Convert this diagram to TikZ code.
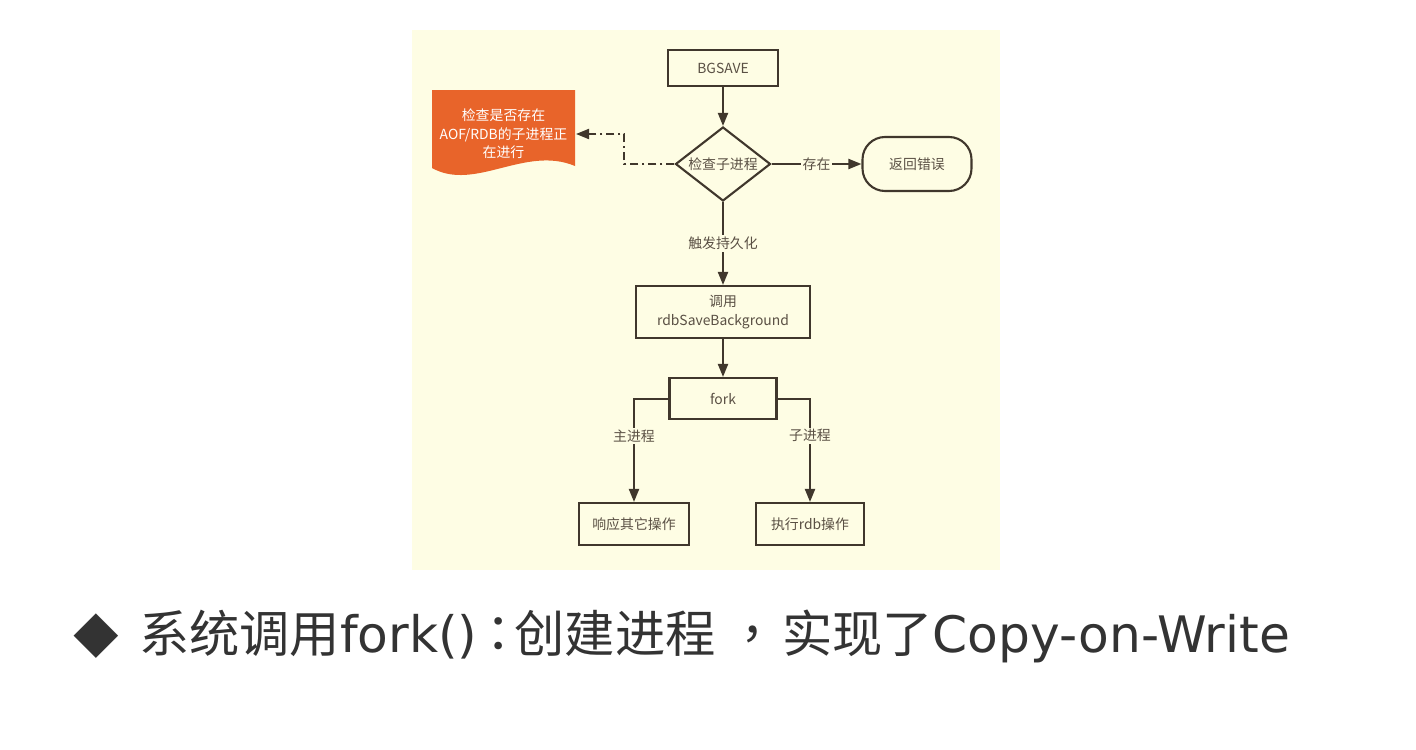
\documentclass[tikz,border=0pt]{standalone}
\usepackage{fontspec}
\newfontfamily\cjk{Noto Sans CJK SC}
\newfontfamily\punct{Noto Sans CJK TC}
\newfontfamily\latin{DejaVu Sans}
\usetikzlibrary{arrows.meta, shapes.geometric}
\definecolor{panel}{RGB}{254,253,228}
\definecolor{ink}{RGB}{64,55,44}
\definecolor{txt}{RGB}{90,80,68}
\definecolor{docfill}{RGB}{232,100,42}
\definecolor{slide}{RGB}{51,51,51}

\begin{document}
\begin{tikzpicture}[
    x=0.2mm, y=-0.2mm,
    line width=0.4mm, ink,
    box/.style={draw=ink, line width=0.42mm, rectangle, inner sep=0pt,
        font=\cjk\fontsize{7.9}{10.5}\selectfont, text=txt, align=center},
    arr/.style={ink, -{Triangle[length=2.6mm, width=2mm]}},
    lab/.style={fill=panel, font=\cjk\fontsize{7.9}{10.5}\selectfont, text=txt, inner sep=1pt},
  ]
  \useasboundingbox (0,0) rectangle (1416,750);
  \fill[white] (0,0) rectangle (1416,750);
  \fill[panel] (412,30) rectangle (1000,570);

  \node[box, minimum width=22mm, minimum height=7.2mm] (bg) at (723,68) {BGSAVE};
  \node[box, diamond, shape aspect=1.3, minimum width=19mm, minimum height=14.8mm] (chk) at (723,164) {检查子进程};
  \node[box, rounded corners=4.5mm, minimum width=21.8mm, minimum height=10.8mm] (err) at (917,164) {返回错误};
  \node[box, minimum width=34.8mm, minimum height=10.4mm] (rdb) at (723,312) {调用\\rdbSaveBackground};
  \node[box, minimum width=21.4mm, minimum height=8.2mm] (fork) at (723,398.5) {fork};
  \node[box, minimum width=22mm, minimum height=8.4mm] (resp) at (634,524) {响应其它操作};
  \node[box, minimum width=21.6mm, minimum height=8.4mm] (exec) at (810,524) {执行rdb操作};

  \fill[docfill] (432,90) -- (575,90) -- (575,166)
    .. controls (525,145) and (475,192) .. (432,168) -- cycle;
  \node[font=\cjk\fontsize{7.9}{10.5}\selectfont, text=white, align=center,
    inner sep=0pt, minimum width=28.6mm] (doc) at (503.5,134) {检查是否存在\\AOF/RDB的子进程正\\在进行};

  \draw[arr] (bg) -- (chk);
  \draw[arr] (chk) -- node[lab] {存在} (err);
  \draw[arr] (chk) -- node[lab] {触发持久化} (rdb);
  \draw[arr] (rdb) -- (fork);
  \draw[arr, dash pattern=on 1.6mm off 0.8mm on 0.4mm off 0.8mm]
    (chk.west) -- ++(-50,0) |- (doc.east);
  \foreach \s/\t/\l in {west/resp/主进程, east/exec/子进程}
    \draw[arr] (fork.\s) -| node[lab, pos=0.68] {\l} (\t.north);

  \node[text=slide, inner sep=0pt, font=\cjk\fontsize{26}{30}\selectfont] (dot) at (96,636) {◆};
  \node[anchor=west, text=slide, inner sep=0pt, font=\fontsize{28.6}{32}\selectfont]
    (note) at (138,636) {\cjk 系统调用\latin fork()\hspace{-0.8mm}\punct ：\hspace{-1.8mm}\cjk 创建进程%
      \hspace{2.4mm}\punct ，\hspace{0.8mm}\cjk 实现了\latin Copy-on-Write};
\end{tikzpicture}
\end{document}
